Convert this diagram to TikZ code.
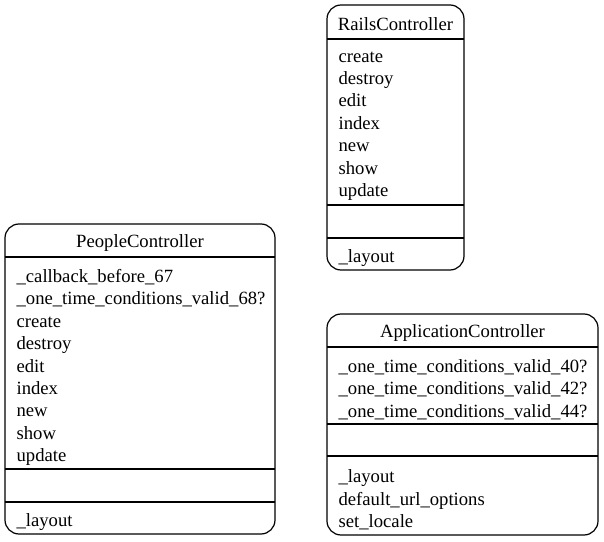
\documentclass[tikz,border=0pt]{standalone}
\usepackage{fontspec}
\setmainfont{Liberation Serif}

\begin{document}
\begin{tikzpicture}[x=0.75pt,y=-0.75pt,line width=0.9pt,
    classname/.style={font=\fontsize{14}{16.8}\selectfont,inner sep=0pt},
    members/.style={font=\fontsize{14}{16.8}\selectfont,inner sep=0pt,anchor=west,align=left}]
    \useasboundingbox (0,0) rectangle (604,542);
    % RailsController
    \draw[rounded corners=10.5pt] (327,5) rectangle (464,270);
    \foreach \y in {39,205,238}{
        \draw (327,\y)--(464,\y);
    }
    \node[classname] (railsname) at (395.5,24.5) {RailsController};
    \node[members] (railsmethods) at (338,126) {create\\destroy\\edit\\index\\new\\show\\update};
    \node[members] (railslayout) at (338,258) {\_layout};
    % PeopleController
    \draw[rounded corners=10.5pt] (5,224) rectangle (275,534);
    \foreach \y in {257,469,502}{
        \draw (5,\y)--(275,\y);
    }
    \node[classname] (peoplename) at (140,243.5) {PeopleController};
    \node[members] (peoplemethods) at (16,367.5) {\_callback\_before\_67\\\_one\_time\_conditions\_valid\_68?\\create\\destroy\\edit\\index\\new\\show\\update};
    \node[members] (peoplelayout) at (16,522) {\_layout};
    % ApplicationController
    \draw[rounded corners=10.5pt] (327,314) rectangle (598,535);
    \foreach \y in {347,424,456}{
        \draw (327,\y)--(598,\y);
    }
    \node[classname] (appname) at (462.5,333.5) {ApplicationController};
    \node[members] (appmethods) at (338,389.5) {\_one\_time\_conditions\_valid\_40?\\\_one\_time\_conditions\_valid\_42?\\\_one\_time\_conditions\_valid\_44?};
    \node[members] (applayout) at (338,500) {\_layout\\default\_url\_options\\set\_locale};
\end{tikzpicture}
\end{document}
